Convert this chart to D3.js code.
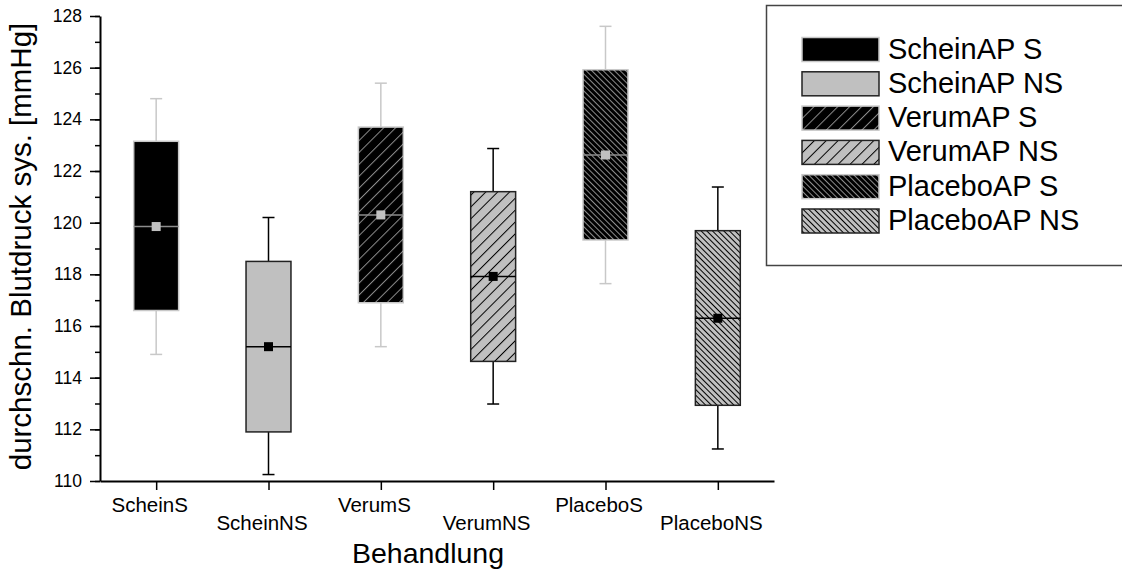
<!DOCTYPE html>
<html>
<head>
<meta charset="utf-8">
<script src="https://cdn.jsdelivr.net/npm/d3@7"></script>
<style>
  body { margin: 0; background: #fff; }
  svg { font-family: Arial, "Liberation Sans", sans-serif; }
</style>
</head>
<body>
<script>
// values
const categories = ['ScheinS', 'ScheinNS', 'VerumS', 'VerumNS', 'PlaceboS', 'PlaceboNS'];
const legendLabels = ['ScheinAP S', 'ScheinAP NS', 'VerumAP S', 'VerumAP NS', 'PlaceboAP S', 'PlaceboAP NS'];
const whiskerLow = [114.9, 110.25, 115.2, 112.98, 117.64, 111.24];
const boxLow = [116.6, 111.9, 116.9, 114.63, 119.33, 112.93];
const means = [119.85, 115.2, 120.3, 117.92, 122.62, 116.3];
const boxHigh = [123.15, 118.5, 123.7, 121.2, 125.92, 119.69];
const whiskerHigh = [124.8, 120.2, 125.4, 122.87, 127.6, 121.38];
const yTicks = [110, 112, 114, 116, 118, 120, 122, 124, 126, 128];
const yMinorTicks = d3.range(110, 129, 1);

const data = categories.map((c, i) => ({
  name: c, legend: legendLabels[i],
  wl: whiskerLow[i], bl: boxLow[i], m: means[i], bh: boxHigh[i], wh: whiskerHigh[i],
  s: i % 2 === 0
}));

const width = 1122, height = 569;
const margin = { top: 16, right: 348, bottom: 88, left: 100 };

const svg = d3.select('body').append('svg')
  .attr('width', width)
  .attr('height', height);

// hatch patterns
const defs = svg.append('defs');
function hatch(id, bg, fg, gap, angle) {
  const p = defs.append('pattern')
    .attr('id', id)
    .attr('patternUnits', 'userSpaceOnUse')
    .attr('width', gap).attr('height', gap)
    .attr('patternTransform', `rotate(${angle})`);
  p.append('rect').attr('width', gap).attr('height', gap).attr('fill', bg);
  p.append('line').attr('x1', 0.5).attr('x2', 0.5).attr('y1', 0).attr('y2', gap)
    .attr('stroke', fg).attr('stroke-width', 1);
}
hatch('verumS', '#000', '#8c8c8c', 8.4, 45);
hatch('verumNS', '#c0c0c0', '#000', 8.4, 45);
hatch('placeboS', '#000', '#8c8c8c', 4, -45);
hatch('placeboNS', '#c0c0c0', '#000', 4, -45);

const fills = ['#000', '#c0c0c0', 'url(#verumS)', 'url(#verumNS)', 'url(#placeboS)', 'url(#placeboNS)'];
const outline = d => d.s ? '#c8c8c8' : '#222';
const whiskerColor = d => d.s ? '#c8c8c8' : '#000';
const meanLine = d => d.s ? '#8c8c8c' : '#000';
const markerColor = d => d.s ? '#c0c0c0' : '#000';

// scales
const xScale = d3.scalePoint()
  .domain(categories)
  .range([margin.left, width - margin.right])
  .padding(0.5);

const yScale = d3.scaleLinear()
  .domain([110, 128])
  .range([height - margin.bottom, margin.top]);

const boxW = xScale.step() * 0.4;
const capW = 12;

const g = svg.append('g');

const box = g.selectAll('g.box')
  .data(data)
  .join('g')
  .attr('class', 'box');

// whiskers
box.append('line')
  .attr('x1', d => xScale(d.name)).attr('x2', d => xScale(d.name))
  .attr('y1', d => yScale(d.wh)).attr('y2', d => yScale(d.bh))
  .attr('stroke', whiskerColor).attr('stroke-width', 1.5);
box.append('line')
  .attr('x1', d => xScale(d.name)).attr('x2', d => xScale(d.name))
  .attr('y1', d => yScale(d.bl)).attr('y2', d => yScale(d.wl))
  .attr('stroke', whiskerColor).attr('stroke-width', 1.5);
box.append('line')
  .attr('x1', d => xScale(d.name) - capW / 2).attr('x2', d => xScale(d.name) + capW / 2)
  .attr('y1', d => yScale(d.wh)).attr('y2', d => yScale(d.wh))
  .attr('stroke', whiskerColor).attr('stroke-width', 1.5);
box.append('line')
  .attr('x1', d => xScale(d.name) - capW / 2).attr('x2', d => xScale(d.name) + capW / 2)
  .attr('y1', d => yScale(d.wl)).attr('y2', d => yScale(d.wl))
  .attr('stroke', whiskerColor).attr('stroke-width', 1.5);

// boxes
box.append('rect')
  .attr('x', d => xScale(d.name) - boxW / 2)
  .attr('y', d => yScale(d.bh))
  .attr('width', boxW)
  .attr('height', d => yScale(d.bl) - yScale(d.bh))
  .attr('fill', (d, i) => fills[i])
  .attr('stroke', outline)
  .attr('stroke-width', 1.5);

// mean line + marker
box.append('line')
  .attr('x1', d => xScale(d.name) - boxW / 2).attr('x2', d => xScale(d.name) + boxW / 2)
  .attr('y1', d => yScale(d.m)).attr('y2', d => yScale(d.m))
  .attr('stroke', meanLine).attr('stroke-width', 1.5);
box.append('rect')
  .attr('x', d => xScale(d.name) - 4.5)
  .attr('y', d => yScale(d.m) - 4.5)
  .attr('width', 9).attr('height', 9)
  .attr('fill', markerColor);

// Y axis
const yMinor = d3.axisLeft(yScale).tickValues(yMinorTicks).tickSize(5).tickFormat('');
svg.append('g')
  .attr('transform', `translate(${margin.left},0)`)
  .call(yMinor)
  .call(a => a.select('.domain').remove())
  .selectAll('line').attr('stroke-width', 1.5);

const yAxis = d3.axisLeft(yScale).tickValues(yTicks).tickSize(10).tickPadding(8).tickSizeOuter(0);
svg.append('g')
  .attr('transform', `translate(${margin.left},0)`)
  .call(yAxis)
  .call(a => a.select('.domain').attr('stroke-width', 2))
  .call(a => a.selectAll('.tick line').attr('stroke-width', 1.5))
  .selectAll('text')
  .style('font-size', '17.5px')
  .attr('fill', '#000');

// X axis
const xAxis = d3.axisBottom(xScale).tickSize(9).tickSizeOuter(0).tickPadding(6);
svg.append('g')
  .attr('transform', `translate(0,${height - margin.bottom})`)
  .call(xAxis)
  .call(a => a.select('.domain').attr('stroke-width', 2))
  .call(a => a.selectAll('.tick line').attr('stroke-width', 1.5))
  .selectAll('text')
  .style('font-size', '20.5px')
  .attr('fill', '#000')
  .attr('dx', '-7')
  .attr('y', (d, i) => i % 2 === 0 ? 16 : 34)
  .attr('dy', '0.71em');

// axis titles
svg.append('text')
  .attr('x', (margin.left + width - margin.right) / 2 - 9)
  .attr('y', 563)
  .attr('text-anchor', 'middle')
  .style('font-size', '28.5px')
  .text('Behandlung');

svg.append('text')
  .attr('transform', `translate(31,${(margin.top + height - margin.bottom) / 2 - 2}) rotate(-90)`)
  .attr('text-anchor', 'middle')
  .style('font-size', '29.5px')
  .text('durchschn. Blutdruck sys. [mmHg]');

// legend
const legend = svg.append('g');
legend.append('rect')
  .attr('x', 766.5).attr('y', 5.5)
  .attr('width', 450).attr('height', 260)
  .attr('fill', '#fff')
  .attr('stroke', '#444')
  .attr('stroke-width', 1.5);

const item = legend.selectAll('g.item')
  .data(data)
  .join('g')
  .attr('class', 'item')
  .attr('transform', (d, i) => `translate(802,${37.5 + i * 34.3})`);

item.append('rect')
  .attr('width', 77).attr('height', 24)
  .attr('fill', (d, i) => fills[i])
  .attr('stroke', outline)
  .attr('stroke-width', 1.5);

item.append('text')
  .attr('x', 86)
  .attr('y', 21)
  .style('font-size', '29px')
  .text(d => d.legend);
</script>
</body>
</html>
